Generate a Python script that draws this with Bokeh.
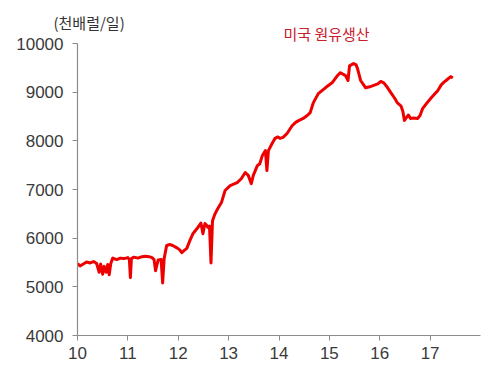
from bokeh.plotting import figure
from bokeh.models import ColumnDataSource, Range1d, FixedTicker, Title
from bokeh.embed import file_html
from bokeh.resources import INLINE

years = [10.00, 10.05, 10.10, 10.18, 10.25, 10.32, 10.38, 10.43, 10.46, 10.50, 10.53, 10.57, 10.60, 10.63,
         10.66, 10.70, 10.78, 10.85, 10.92, 11.00, 11.03, 11.05, 11.07, 11.12, 11.20, 11.28, 11.35, 11.42,
         11.48, 11.52, 11.55, 11.60, 11.66, 11.69, 11.72, 11.77, 11.83, 11.89, 11.99, 12.03, 12.07, 12.12,
         12.17, 12.23, 12.29, 12.39, 12.45, 12.49, 12.53, 12.56, 12.59, 12.62, 12.65, 12.68, 12.73, 12.78,
         12.86, 12.93, 13.03, 13.10, 13.17, 13.25, 13.33, 13.39, 13.45, 13.49, 13.57, 13.62, 13.67, 13.73,
         13.76, 13.79, 13.86, 13.92, 13.98, 14.02, 14.08, 14.16, 14.26, 14.33, 14.38, 14.48, 14.56, 14.62,
         14.68, 14.78, 14.92, 15.06, 15.16, 15.22, 15.32, 15.37, 15.40, 15.48, 15.53, 15.56, 15.62, 15.68,
         15.72, 15.80, 15.88, 15.96, 16.02, 16.08, 16.15, 16.22, 16.30, 16.35, 16.42, 16.46, 16.49, 16.53,
         16.57, 16.61, 16.67, 16.75, 16.80, 16.85, 16.93, 17.01, 17.08, 17.15, 17.22, 17.27, 17.34, 17.41,
         17.45]
production = [5480, 5430, 5460, 5510, 5490, 5520, 5480, 5300, 5470, 5260, 5420, 5300, 5460, 5250,
              5480, 5590, 5560, 5590, 5580, 5600, 5560, 5190, 5580, 5610, 5590, 5620, 5630, 5620,
              5600, 5560, 5330, 5550, 5560, 5080, 5580, 5850, 5870, 5850, 5790, 5760, 5700, 5750,
              5790, 5950, 6090, 6220, 6310, 6090, 6300, 6270, 6220, 6250, 5490, 6360, 6500, 6600,
              6740, 6980, 7080, 7110, 7140, 7220, 7350, 7290, 7120, 7290, 7490, 7530, 7700, 7800,
              7390, 7800, 7940, 8050, 8080, 8050, 8070, 8150, 8310, 8380, 8410, 8460, 8520, 8580,
              8780, 8970, 9090, 9200, 9340, 9400, 9340, 9240, 9540, 9590, 9560, 9480, 9240, 9150,
              9090, 9110, 9140, 9170, 9220, 9190, 9100, 8990, 8870, 8780, 8720, 8600, 8420, 8480,
              8530, 8460, 8470, 8460, 8520, 8660, 8770, 8870, 8950, 9030, 9150, 9200, 9260, 9320,
              9290]

x_ticks = [10, 11, 12, 13, 14, 15, 16, 17]
y_ticks = [4000, 5000, 6000, 7000, 8000, 9000, 10000]
unit_label = "(천배럴/일)"
series_label = "미국 원유생산"

p = figure(width=492, height=368, output_backend="svg", toolbar_location=None,
           x_range=Range1d(10, 18), y_range=Range1d(4000, 10000),
           min_border_left=77, min_border_right=12, min_border_top=43, min_border_bottom=33)
p.outline_line_color = None
p.xgrid.grid_line_color = None
p.ygrid.grid_line_color = None
p.background_fill_color = "white"
p.border_fill_color = "white"

# unit label as the main (outer) title
p.title.text = unit_label
p.title.align = "left"
p.title.offset = -24
p.title.standoff = -25
p.title.text_font = "Noto Sans CJK KR"
p.title.text_font_size = "15px"
p.title.text_font_style = "normal"
p.title.text_color = "#333333"

src = ColumnDataSource(dict(x=years, y=production))
p.line("x", "y", source=src, line_color="#ee0000", line_width=3, line_join="round")

for ax in (p.xaxis[0], p.yaxis[0]):
    ax.axis_line_color = "#8c8c8c"
    ax.axis_line_width = 1.2
    ax.major_tick_line_color = "#8c8c8c"
    ax.minor_tick_line_color = None
    ax.major_tick_in = 0
    ax.major_tick_out = 5
    ax.major_label_text_font = "Liberation Sans"
    ax.major_label_text_font_size = "17px"
    ax.major_label_text_color = "#3a3a3a"

p.xaxis[0].ticker = FixedTicker(ticks=x_ticks)
p.yaxis[0].ticker = FixedTicker(ticks=y_ticks)
p.xaxis[0].major_label_standoff = 6
p.yaxis[0].major_label_standoff = 9

# series label (inner title, nearest the frame)
p.add_layout(Title(text=series_label, align="left", offset=206, standoff=0,
                   text_font="Noto Sans CJK KR", text_font_size="15px",
                   text_font_style="normal", text_color="#c8202a"), "above")

open("out.html", "w").write(file_html(p, INLINE))
